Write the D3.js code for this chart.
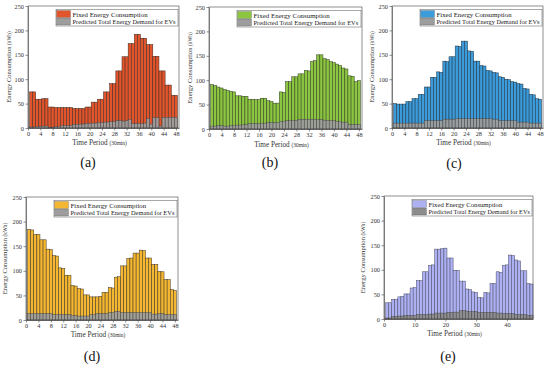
<!DOCTYPE html>
<html><head><meta charset="utf-8">
<script src="https://cdn.jsdelivr.net/npm/d3@7"></script>
<style>body{margin:0;background:#fff}svg{display:block}</style>
</head><body>
<svg id="c" width="550" height="368"></svg>
<script>
// ---- data ----
const periods = [1,2,3,4,5,6,7,8,9,10,11,12,13,14,15,16,17,18,19,20,21,22,23,24,25,26,27,28,29,30,31,32,33,34,35,36,37,38,39,40,41,42,43,44,45,46,47,48];
const yTicks = [0,50,100,150,200,250];
const xTicksQuarter = [0,4,8,12,16,20,24,28,32,36,40,44,48];
const xTicksTen = [0,10,20,30,40];
const seriesNames = ["Fixed Energy Consumption","Predicted Total Energy Demand for EVs"];
const panelLabels = ["(a)","(b)","(c)","(d)","(e)"];

const fixedA = [74,74,59,59,60,60,43,43,42,42,42,42,42,42,40,40,40,40,43,43,53,53,59,59,74,74,91,91,117,117,146,146,173,173,192,192,184,184,171,171,147,147,117,117,88,88,67,67];
const evA    = [2,2,3,3,4,4,1,1,3,3,5,5,5,5,7,7,8,8,9,9,10,10,11,11,12,12,13,13,15,15,14,15,17,9,9,9,9,10,19,8,21,21,4,22,22,22,22,22];
const fixedB = [91,89,86,84,81,79,77,76,68,68,67,67,61,61,60,60,63,63,58,56,53,53,76,75,97,97,107,107,113,113,120,119,138,140,152,152,144,142,138,136,133,130,125,123,109,108,97,99];
const evB    = [6,6,7,7,6,6,7,7,8,8,9,9,11,11,11,11,12,12,13,13,13,13,16,16,17,17,18,18,20,20,20,20,20,20,19,19,18,18,17,17,16,16,14,14,9,9,9,9];
const fixedC = [50,49,49,49,54,54,60,60,69,69,84,84,104,104,115,114,137,136,146,146,168,167,178,178,158,157,137,137,128,127,118,117,114,113,105,104,100,99,95,94,91,90,81,80,69,68,60,59];
const evC    = [10,10,10,10,10,10,10,10,10,10,15,15,15,15,15,15,18,18,18,18,19,19,19,19,19,19,19,19,19,19,19,19,18,18,15,15,15,15,15,15,12,12,12,12,10,10,10,10];
const fixedD = [184,183,174,174,163,163,144,143,131,130,106,105,91,91,70,69,64,63,51,51,47,47,47,48,56,56,66,65,87,88,110,110,125,126,136,136,142,141,126,126,113,113,99,98,82,82,62,60];
const evD    = [13,13,13,13,13,13,13,13,11,11,11,11,11,11,9,9,8,8,8,8,11,11,13,13,13,13,15,15,17,17,15,15,15,15,15,15,15,15,15,15,12,12,13,13,11,11,11,11];
const fixedE = [33,33,40,40,45,46,51,51,63,64,78,78,96,96,109,110,142,142,143,144,124,124,99,99,77,77,61,60,55,54,44,43,54,53,72,72,96,95,109,110,130,129,120,118,98,98,72,71];
const evE    = [2,2,5,5,6,6,7,7,7,7,9,9,9,9,10,10,12,12,12,12,13,13,14,14,17,17,16,15,15,15,13,13,13,13,13,13,12,12,11,11,11,11,9,9,9,9,7,7];

// ---- layout ----
const panels = [
  {fixed:fixedA, ev:evA, color:"#E2542B", stroke:"#3a2a22", x0:28,  x1:179, y0:128, y1:6,   xmax:49,   xticks:xTicksQuarter, ytx:11,  xty:145, lab:[88,167]},
  {fixed:fixedB, ev:evB, color:"#8CC540", stroke:"#2f3a22", x0:209, x1:362, y0:129, y1:7,   xmax:49,   xticks:xTicksQuarter, ytx:192, xty:147, lab:[270,167]},
  {fixed:fixedC, ev:evC, color:"#3B9BDB", stroke:"#1f2f3a", x0:392, x1:543, y0:128, y1:6,   xmax:49,   xticks:xTicksQuarter, ytx:374, xty:145, lab:[454,168]},
  {fixed:fixedD, ev:evD, color:"#F5B731", stroke:"#3a3222", x0:26,  x1:178, y0:320, y1:197, xmax:49,   xticks:xTicksQuarter, ytx:7,   xty:337, lab:[92,361]},
  {fixed:fixedE, ev:evE, color:"#ADB1F3", stroke:"#4a4a60", x0:384, x1:533, y0:319, y1:196, xmax:48.5, xticks:xTicksTen,     ytx:365, xty:336, lab:[448,361]}
];
const legendTextFrac = [0.615, 0.845];

const svg = d3.select("#c");
const FONT = "'Liberation Serif','Times New Roman',serif";

panels.forEach((p, k) => {
  const g = svg.append("g");
  const xs = d3.scaleLinear().domain([0, p.xmax]).range([p.x0, p.x1]);
  const ys = d3.scaleLinear().domain([0, 250]).range([p.y0, p.y1]);
  const bw = xs(1) - xs(0);

  g.append("g").selectAll("rect").data(periods).join("rect")
    .attr("x", (d) => xs(d - 0.5)).attr("width", bw)
    .attr("y", (d, i) => ys(p.fixed[i])).attr("height", (d, i) => ys(0) - ys(p.fixed[i]))
    .attr("fill", p.color).attr("stroke", p.stroke).attr("stroke-width", 0.5);
  g.append("g").selectAll("rect").data(periods).join("rect")
    .attr("x", (d) => xs(d - 0.5)).attr("width", bw)
    .attr("y", (d, i) => ys(p.ev[i])).attr("height", (d, i) => ys(0) - ys(p.ev[i]))
    .attr("fill", k === 4 ? "#8c8c8c" : "#9d9d9d").attr("fill-opacity", 0.95)
    .attr("stroke", "#4a4a4a").attr("stroke-width", 0.5);

  // frame
  g.append("rect").attr("x", p.x0).attr("y", p.y1).attr("width", p.x1 - p.x0).attr("height", p.y0 - p.y1)
    .attr("fill", "none").attr("stroke", "#444").attr("stroke-width", 0.6);

  const ax = g.append("g").attr("transform", `translate(0,${p.y0})`)
    .call(d3.axisBottom(xs).tickValues(p.xticks).tickSize(2.5).tickSizeOuter(0).tickPadding(1.5));
  const ay = g.append("g").attr("transform", `translate(${p.x0},0)`)
    .call(d3.axisLeft(ys).tickValues(yTicks).tickSize(2.5).tickSizeOuter(0).tickPadding(1.5));
  [ax, ay].forEach(a => {
    a.select(".domain").attr("stroke", "#444").attr("stroke-width", 0.6);
    a.selectAll(".tick line").attr("stroke", "#444").attr("stroke-width", 0.6);
    a.selectAll(".tick text").attr("font-family", FONT).attr("font-size", 6.3).attr("fill", "#333");
  });

  // axis titles
  const yt = g.append("text").attr("transform", `translate(${p.ytx},${(p.y0 + p.y1) / 2}) rotate(-90)`)
    .attr("text-anchor", "middle").attr("font-family", FONT).attr("fill", "#333");
  yt.append("tspan").attr("font-size", 6.6).text("Energy Consumption ");
  yt.append("tspan").attr("font-size", 5.2).text("(kWh)");
  const xt = g.append("text").attr("x", (p.x0 + p.x1) / 2 - 4).attr("y", p.xty)
    .attr("text-anchor", "middle").attr("font-family", FONT).attr("fill", "#333");
  xt.append("tspan").attr("font-size", 7.2).text("Time Period ");
  xt.append("tspan").attr("font-size", 5.4).text("(30min)");

  // legend
  const lx = p.x0 + 28, ly = p.y1 + 3.5, lw = p.x1 - 1 - lx, lh = 16.5;
  const lg = g.append("g");
  lg.append("rect").attr("x", lx).attr("y", ly).attr("width", lw).attr("height", lh)
    .attr("fill", "#fff").attr("stroke", "#555").attr("stroke-width", 0.5);
  const swCol = [p.color, k === 4 ? "#8c8c8c" : "#9d9d9d"];
  seriesNames.forEach((nm, j) => {
    lg.append("rect").attr("x", lx + 0.5).attr("y", ly + 1 + j * 7.5).attr("width", 14).attr("height", 7)
      .attr("fill", swCol[j]).attr("stroke", "#555").attr("stroke-width", 0.3);
    lg.append("text").attr("x", lx + 16.5).attr("y", ly + 7 + j * 7.5)
      .attr("font-family", FONT).attr("font-size", 7).attr("fill", "#222")
      .attr("textLength", lw * legendTextFrac[j]).attr("lengthAdjust", "spacingAndGlyphs").text(nm);
  });

  g.append("text").attr("x", p.lab[0]).attr("y", p.lab[1]).attr("text-anchor", "middle")
    .attr("font-family", FONT).attr("font-size", 14).attr("fill", "#111").text(panelLabels[k]);
});
</script>
</body></html>
